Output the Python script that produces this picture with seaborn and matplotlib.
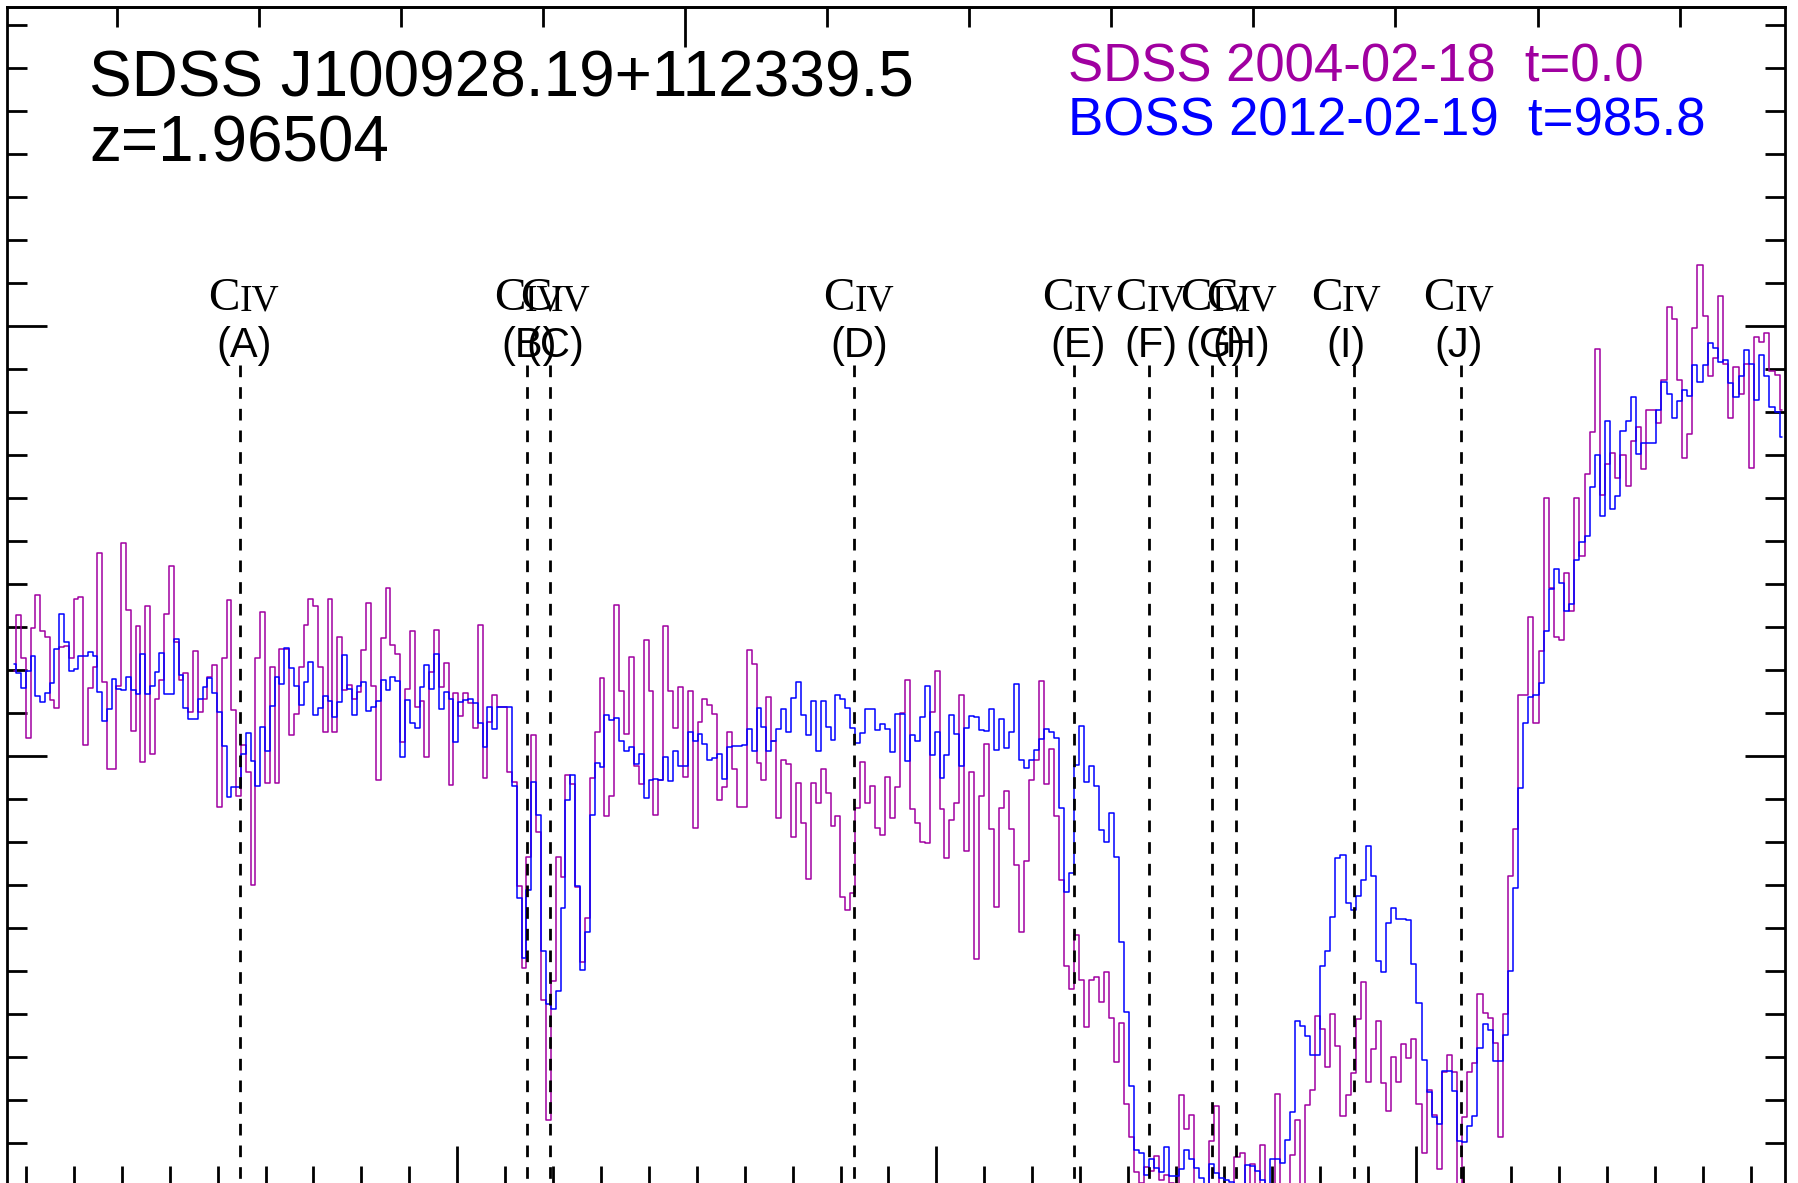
import numpy as np
import pandas as pd
import matplotlib
matplotlib.use("Agg")
import matplotlib.pyplot as plt
from matplotlib.ticker import MultipleLocator
import seaborn as sns

# quasar and pixel grid (SDSS log-linear, 1e-4 dex per pixel)
Z_QSO = 1.96504
LOGLAM0 = np.log10(4307.5)
DLOGLAM = 1e-4

# flux, one value per pixel
sdss_flux = [
    1.197, 1.327, 1.226, 1.040, 1.296, 1.374, 1.289, 1.275, 1.129, 1.110,
    1.253, 1.254, 1.226, 1.364, 1.368, 1.025, 1.157, 1.207, 1.471, 1.171,
    0.968, 0.968, 1.163, 1.495, 1.339, 1.058, 1.301, 0.986, 1.348, 1.004,
    1.132, 1.175, 1.330, 1.441, 1.264, 1.175, 1.193, 1.101, 1.244, 1.101,
    1.132, 1.183, 1.211, 0.881, 1.227, 1.362, 1.107, 0.906, 1.025, 0.961,
    0.700, 1.227,
    1.335, 0.937, 1.207, 0.937, 1.249, 1.249, 1.049, 1.098, 1.207, 1.304,
    1.365, 1.348, 1.206, 1.054, 1.365, 1.054, 1.277, 1.153, 1.164, 1.132,
    1.148, 1.246, 1.356, 1.163, 0.943, 1.274, 1.389, 1.257, 1.236, 1.031,
    1.154, 1.291, 1.113, 1.126, 0.998, 1.195, 1.292, 1.160, 1.215, 0.932,
    1.145, 1.092, 1.145, 1.123, 1.065, 1.303, 0.947, 1.079, 1.142, 1.114,
    1.114, 0.963, 0.939,
    0.697, 0.507, 0.764, 1.047, 0.822, 0.432, 0.152, 0.475, 0.764, 0.717,
    0.956, 0.933, 0.695, 0.520, 0.622, 0.948, 1.055, 1.181, 0.860, 0.906,
    1.350, 1.151, 1.050, 1.229, 0.975, 0.933, 1.270, 1.151, 0.862, 0.943,
    1.301, 1.150, 1.064, 1.159, 0.951, 1.150, 0.831, 1.078, 1.131, 1.119,
    1.098, 0.897, 0.927, 1.055, 0.969, 0.881, 0.881, 1.246, 1.214, 0.984,
    0.943, 1.137, 1.034, 0.855, 0.990, 0.980, 0.810, 0.936, 0.844, 0.713,
    0.936, 0.889, 0.969, 0.913, 0.837, 0.860, 0.672, 0.642, 0.680, 0.879,
    0.985, 0.890, 0.930, 0.831, 0.816, 0.950, 0.855, 0.927, 1.099, 1.177,
    0.876, 0.843, 0.799, 0.798, 1.102, 1.197, 0.875, 0.762, 0.851, 0.891,
    1.141, 0.778, 0.963, 0.528, 0.906, 1.028, 0.830, 0.647, 0.878, 0.917,
    0.830, 0.745, 0.590, 0.756, 0.943, 0.989, 1.174, 0.934, 1.016, 0.860,
    0.711, 0.510, 0.458, 0.582, 0.479, 0.370, 0.479, 0.486,
    0.427, 0.497, 0.390, 0.287, 0.378, 0.191, 0.113, 0.031, 0.007, 0.044,
    0.035, 0.070, 0.013, 0.026, 0.007, -0.03, 0.210, 0.131, 0.165, -0.03,
    -0.03, -0.02, 0.104, 0.185, -0.02, -0.03, -0.02, 0.067, 0.076, -0.02,
    0.051, -0.02, 0.095, -0.03, -0.02, 0.214, -0.03, -0.02, 0.071, 0.153,
    -0.02, 0.188, 0.223, 0.394, 0.365, 0.277, 0.400, 0.325, 0.162, 0.212,
    0.262, 0.388, 0.474, 0.240, 0.318, 0.383, 0.238, 0.173, 0.300, 0.241,
    0.329, 0.297, 0.342, 0.191, 0.076, 0.223, 0.164, 0.039, 0.264, 0.305,
    0.264, -0.03, 0.160, 0.264, 0.286, 0.446, 0.402, 0.389, 0.333, 0.113,
    0.400, 0.720, 0.830, 1.140, 1.140, 1.323, 1.077, 1.243, 1.599, 1.389,
    1.275, 1.269, 1.424, 1.337, 1.599, 1.465, 1.654, 1.752, 1.945, 1.607,
    1.679, 1.705, 1.646, 1.700, 1.628, 1.731, 1.765, 1.666, 1.804, 1.804,
    1.773, 1.874, 2.043, 2.016, 1.874, 1.692, 1.749, 1.994, 2.141, 2.022,
    1.884, 1.925, 2.069, 1.911, 1.786, 1.905, 1.842, 1.911, 1.669, 1.973,
    1.963, 1.983, 1.895, 1.885, 1.804,
]

boss_flux = [
    1.213, 1.193, 1.158, 1.197, 1.231, 1.139, 1.124, 1.146, 1.170, 1.248,
    1.329, 1.264, 1.197, 1.202, 1.232, 1.232, 1.240, 1.231, 1.148, 1.081,
    1.108, 1.179, 1.154, 1.152, 1.182, 1.153, 1.144, 1.237, 1.144, 1.161,
    1.195, 1.239, 1.144, 1.144, 1.272, 1.188, 1.112, 1.085, 1.085, 1.132,
    1.160, 1.181, 1.146, 1.101, 1.023, 0.905, 0.928, 0.928, 1.005, 1.053,
    0.987, 0.929,
    1.067, 1.012, 1.115, 1.182, 1.166, 1.251, 1.204, 1.162, 1.117, 1.172,
    1.218, 1.095, 1.110, 1.138, 1.126, 1.091, 1.125, 1.235, 1.155, 1.094,
    1.163, 1.172, 1.104, 1.113, 1.128, 1.177, 1.152, 1.183, 1.174, 0.998,
    1.130, 1.077, 1.065, 1.159, 1.211, 1.156, 1.237, 1.108, 1.149, 1.132,
    1.032, 1.125, 1.129, 1.132, 1.122, 1.075, 1.021, 1.114, 1.062, 1.114,
    1.114, 1.114, 0.930,
    0.670, 0.530, 0.688, 0.938, 0.863, 0.546, 0.422, 0.411, 0.453, 0.646,
    0.897, 0.954, 0.696, 0.502, 0.591, 0.863, 0.982, 0.973, 1.094, 1.084,
    1.087, 1.035, 1.011, 1.020, 0.981, 1.003, 0.901, 0.943, 0.945, 0.943,
    0.996, 0.942, 1.010, 0.975, 0.975, 1.056, 1.035, 1.051, 1.026, 0.990,
    0.995, 1.005, 0.945, 1.021, 1.023, 1.023, 1.024, 1.063, 1.011, 1.110,
    1.067, 1.010, 1.034, 1.063, 1.108, 1.055, 1.134, 1.172, 1.094, 1.048,
    1.128, 1.011, 1.126, 1.067, 1.036, 1.142, 1.131, 1.111, 1.065, 1.030,
    1.052, 1.109, 1.109, 1.059, 1.074, 1.062, 1.008, 1.098, 1.098, 0.987,
    1.048, 1.035, 1.091, 1.161, 1.001, 1.054, 0.949, 1.002, 1.095, 1.050,
    0.976, 1.065, 1.093, 1.089, 1.060, 1.057, 1.108, 1.013, 1.085, 1.018,
    1.056, 1.167, 0.990, 0.972, 0.990, 1.014, 1.038, 1.061, 1.054, 1.042,
    0.878, 0.684, 0.728, 0.978, 1.068, 0.939, 0.977, 0.930,
    0.826, 0.799, 0.867, 0.765, 0.567, 0.404, 0.231, 0.082, 0.077, 0.026,
    0.063, 0.041, 0.032, 0.091, 0.022, 0.022, 0.039, 0.082, 0.061, 0.041,
    0.018, -0.01, 0.050, 0.030, 0.019, 0.013, 0.009, -0.01, -0.01, 0.048,
    0.045, 0.035, 0.013, -0.01, 0.061, 0.063, 0.053, 0.106, 0.172, 0.384,
    0.371, 0.348, 0.305, 0.305, 0.511, 0.545, 0.625, 0.762, 0.769, 0.657,
    0.640, 0.673, 0.712, 0.791, 0.721, 0.523, 0.497, 0.610, 0.646, 0.620,
    0.620, 0.619, 0.515, 0.424, 0.293, 0.219, 0.159, 0.143, 0.266, 0.266,
    0.221, 0.104, 0.102, 0.139, 0.162, 0.320, 0.375, 0.363, 0.290, 0.290,
    0.350, 0.500, 0.693, 0.924, 1.077, 1.137, 1.142, 1.168, 1.289, 1.388,
    1.434, 1.402, 1.337, 1.352, 1.456, 1.496, 1.512, 1.625, 1.699, 1.557,
    1.779, 1.574, 1.605, 1.756, 1.779, 1.834, 1.702, 1.726, 1.726, 1.726,
    1.804, 1.870, 1.841, 1.786, 1.824, 1.850, 1.837, 1.909, 1.868, 1.909,
    1.959, 1.947, 1.916, 1.921, 1.866, 1.833, 1.883, 1.943, 1.911, 1.826,
    1.931, 1.883, 1.810, 1.800, 1.740,
]

epochs = ["SDSS 2004-02-18  t=0.0", "BOSS 2012-02-19  t=985.8"]
epoch_colors = ["#a000a0", "#0000ff"]

# C IV absorption troughs (observed wavelength)
trough_ids = ["A", "B", "C", "D", "E", "F", "G", "H", "I", "J"]
trough_wave = [4354.6, 4414.6, 4419.4, 4482.8, 4528.7,
               4544.4, 4557.6, 4562.6, 4587.2, 4609.4]

object_name = "SDSS J100928.19+112339.5"
object_z = "z=1.96504"

sns.set_style("white")
plt.rcParams["font.family"] = ["Liberation Sans", "DejaVu Sans"]
plt.rcParams["text.color"] = "black"
plt.rcParams["lines.scale_dashes"] = False

W, H = 1798, 1183
fig = plt.figure(figsize=(W / 100, H / 100), dpi=100)
# frame in pixels: left, right, top, bottom (bottom spine sits just below the image)
fl, fr, ft, fb = 7.3, 1785.0, 7.0, 1185.7
ax = fig.add_axes([fl / W, 1 - fb / H, (fr - fl) / W, (fb - ft) / H])

frames = []
for name, flux in zip(epochs, [sdss_flux, boss_flux]):
    wave = 10 ** (LOGLAM0 + DLOGLAM * np.arange(len(flux)))
    frames.append(pd.DataFrame({"wave": wave, "flux": flux, "epoch": name}))
spec = pd.concat(frames, ignore_index=True)

sns.lineplot(data=spec, x="wave", y="flux", hue="epoch", hue_order=epochs,
             palette=dict(zip(epochs, epoch_colors)), estimator=None, sort=False,
             drawstyle="steps-mid", linewidth=1.1, legend=False, ax=ax)

ax.set_xlim(4306.1, 4677.1)
ax.set_ylim(0, 2.741)
ax.set_xlabel("")
ax.set_ylabel("")

# dashed trough markers and their labels
label_top = 2.036
label_bot = 1.928
line_top = 1.909
label_nudge = [4, 2, 5, 5, 4, 2, 3, 5, -8, -2]  # pixels
ax.vlines(trough_wave, line_top, 0, colors="black", linewidth=2.0,
          linestyles=(0, (8.4, 7.2)))
serif = ["Liberation Serif", "DejaVu Serif"]
for tid, w, dx in zip(trough_ids, trough_wave, label_nudge):
    dpt = dx * 0.72
    ax.annotate("C", xy=(w, label_top), xytext=(dpt - 3.0, 0), textcoords="offset points",
                ha="right", va="baseline", fontsize=34, family=serif, color="black")
    ax.annotate("IV", xy=(w, label_top), xytext=(dpt - 3.0, 0), textcoords="offset points",
                ha="left", va="baseline", fontsize=27, family=serif, color="black")
    ax.annotate(f"({tid})", xy=(w, label_bot), xytext=(dpt, 0), textcoords="offset points",
                ha="center", va="baseline", fontsize=30, color="black")

# object name and epoch key
ax.text(0.0460, 0.9239, object_name, transform=ax.transAxes, fontsize=46,
        ha="left", va="baseline", color="black")
ax.text(0.0460, 0.8688, object_z, transform=ax.transAxes, fontsize=46,
        ha="left", va="baseline", color="black")
for i, (name, col) in enumerate(zip(epochs, epoch_colors)):
    ax.text(0.5967, [0.9366, 0.8914][i], name, transform=ax.transAxes,
            fontsize=38, ha="left", va="baseline", color=col)

# frame and ticks (no labels)
for s in ax.spines.values():
    s.set_linewidth(2)
    s.set_color("black")
ax.xaxis.set_major_locator(MultipleLocator(100))
ax.xaxis.set_minor_locator(MultipleLocator(10))
ax.yaxis.set_major_locator(MultipleLocator(1))
ax.yaxis.set_minor_locator(MultipleLocator(0.1))
ax.tick_params(which="both", direction="in", width=2, color="black",
               left=True, right=True, bottom=True, top=False,
               labelleft=False, labelbottom=False)
ax.tick_params(which="major", length=28.8)
ax.tick_params(which="minor", length=14.4)

rest = ax.secondary_xaxis("top", functions=(lambda w: w / (1 + Z_QSO),
                                            lambda r: r * (1 + Z_QSO)))
rest.xaxis.set_major_locator(MultipleLocator(100))
rest.xaxis.set_minor_locator(MultipleLocator(10))
rest.tick_params(which="both", direction="in", width=2, color="black", labeltop=False)
rest.tick_params(which="major", length=28.8)
rest.tick_params(which="minor", length=14.4)
rest.spines["top"].set_linewidth(2)

fig.savefig("out.png", dpi=100)
